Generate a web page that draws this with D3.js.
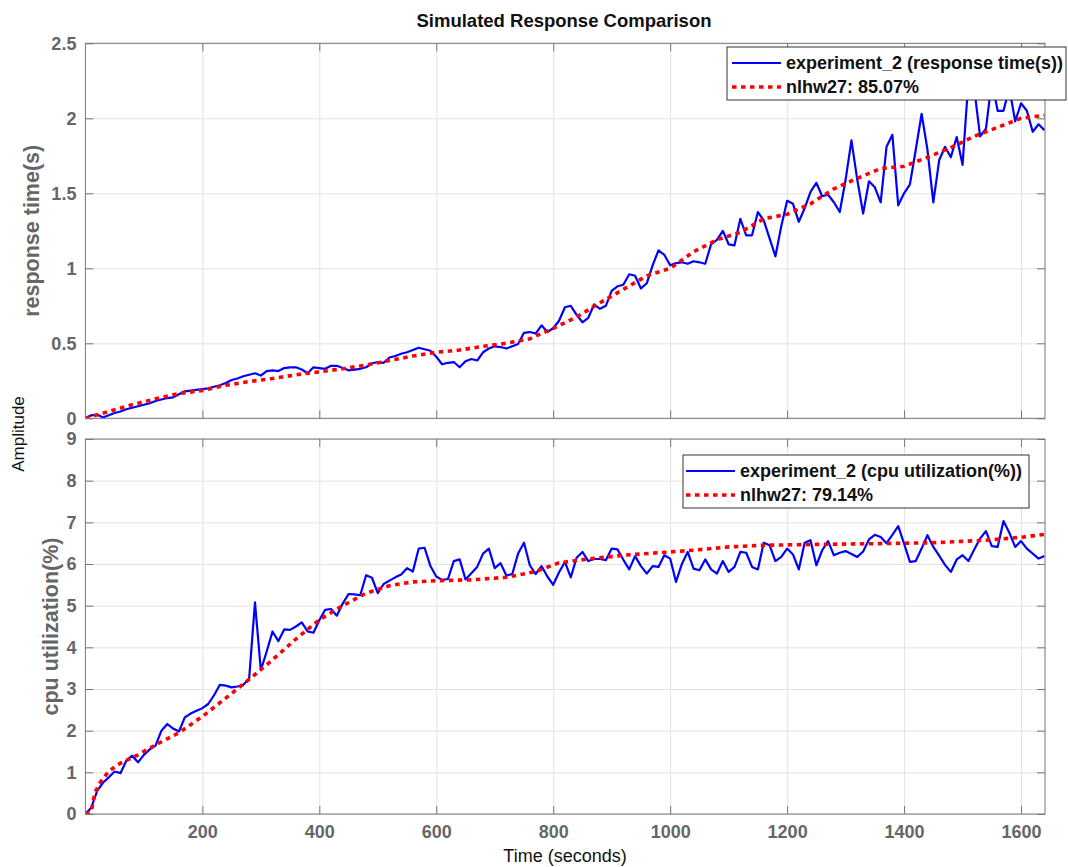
<!DOCTYPE html>
<html>
<head>
<meta charset="utf-8">
<script src="https://cdn.jsdelivr.net/npm/d3@7"></script>
<style>
  body { margin: 0; background: #fff; }
  svg { font-family: "Liberation Sans", Arial, sans-serif; }
</style>
</head>
<body>
<div id="chart"></div>
<script>
///////////// DATA /////////////

// measured samples, one every 10 s
var sampleTimes = d3.range(0, 1641, 10);

var respMeasured = [
  0.00, 0.02, 0.025, 0.005, 0.02, 0.035, 0.045, 0.06, 0.07, 0.08,
  0.09, 0.10, 0.115, 0.125, 0.135, 0.14, 0.16, 0.18, 0.185, 0.19,
  0.195, 0.20, 0.21, 0.22, 0.235, 0.255, 0.265, 0.28, 0.29, 0.30,
  0.285, 0.315, 0.32, 0.315, 0.335, 0.34, 0.34, 0.325, 0.30, 0.34,
  0.335, 0.33, 0.35, 0.35, 0.335, 0.32, 0.325, 0.33, 0.34, 0.365,
  0.375, 0.37, 0.405, 0.415, 0.43, 0.44, 0.455, 0.47, 0.46, 0.45,
  0.41, 0.36, 0.37, 0.375, 0.34, 0.38, 0.395, 0.385, 0.44, 0.465,
  0.48, 0.475, 0.465, 0.48, 0.495, 0.57, 0.575, 0.565, 0.62, 0.575,
  0.60, 0.65, 0.74, 0.75, 0.69, 0.64, 0.67, 0.76, 0.73, 0.75,
  0.85, 0.88, 0.89, 0.96, 0.95, 0.865, 0.90, 1.02, 1.12, 1.09,
  1.02, 1.035, 1.04, 1.03, 1.047, 1.04, 1.03, 1.16, 1.19, 1.25,
  1.16, 1.153, 1.33, 1.22, 1.22, 1.375, 1.32, 1.20, 1.08, 1.28,
  1.45, 1.43, 1.31, 1.40, 1.51, 1.57, 1.48, 1.49, 1.44, 1.375,
  1.59, 1.853, 1.59, 1.365, 1.58, 1.54, 1.44, 1.81, 1.89, 1.42,
  1.50, 1.56, 1.79, 2.03, 1.79, 1.44, 1.72, 1.81, 1.74, 1.875,
  1.69, 2.25, 2.20, 1.88, 1.93, 2.25, 2.05, 2.05, 2.20, 1.98,
  2.10, 2.05, 1.91, 1.96, 1.92
];

var cpuMeasured = [
  0.0, 0.15, 0.55, 0.75, 0.88, 1.02, 0.98, 1.28, 1.40, 1.24,
  1.42, 1.55, 1.64, 2.0, 2.16, 2.05, 1.98, 2.32, 2.41, 2.48,
  2.54, 2.64, 2.85, 3.10, 3.08, 3.04, 3.06, 3.10, 3.25, 5.08,
  3.45, 3.9, 4.38, 4.15, 4.43, 4.42, 4.5, 4.6, 4.38, 4.35,
  4.65, 4.9, 4.92, 4.76, 5.05, 5.28, 5.27, 5.25, 5.73, 5.67,
  5.3, 5.52, 5.6, 5.68, 5.75, 5.9, 5.82, 6.37, 6.39, 5.95,
  5.7, 5.62, 5.64, 6.07, 6.11, 5.63, 5.78, 5.93, 6.25, 6.37,
  5.9, 6.02, 5.72, 5.76, 6.25, 6.51, 5.97, 5.76, 5.95, 5.7,
  5.5, 5.8, 6.05, 5.68, 6.15, 6.29, 6.07, 6.12, 6.12, 6.09,
  6.37, 6.35, 6.1, 5.87, 6.19, 5.95, 5.77, 5.95, 5.93, 6.21,
  6.13, 5.57, 6.0, 6.29, 5.89, 5.85, 6.11, 5.87, 5.77, 6.07,
  5.81, 5.93, 6.29, 6.27, 5.93, 5.87, 6.51, 6.45, 6.07, 6.17,
  6.37, 6.23, 5.87, 6.51, 6.57, 5.97, 6.33, 6.55, 6.21, 6.27,
  6.31, 6.24, 6.17, 6.3, 6.59, 6.7, 6.65, 6.5, 6.7, 6.91,
  6.49, 6.05, 6.07, 6.37, 6.69, 6.41, 6.2, 5.98, 5.81, 6.11,
  6.21, 6.07, 6.35, 6.61, 6.79, 6.43, 6.41, 7.03, 6.75, 6.41,
  6.55, 6.37, 6.25, 6.13, 6.19
];

// nlhw27 model output (smooth, read at coarser points)
var respFitTimes = [0, 40, 80, 120, 160, 200, 240, 280, 320, 360, 400, 440, 480, 520, 560, 600,
  640, 680, 720, 760, 800, 840, 880, 920, 960, 1000, 1040, 1080, 1120, 1160, 1200, 1240,
  1280, 1320, 1360, 1400, 1440, 1480, 1520, 1560, 1600, 1640];
var respFit = [0.0, 0.045, 0.09, 0.13, 0.165, 0.185, 0.22, 0.245, 0.265, 0.29, 0.31, 0.33, 0.355, 0.385, 0.415, 0.44,
  0.455, 0.48, 0.50, 0.53, 0.60, 0.675, 0.77, 0.86, 0.95, 1.0, 1.11, 1.19, 1.24, 1.33, 1.36, 1.43,
  1.53, 1.60, 1.665, 1.68, 1.74, 1.805, 1.88, 1.94, 2.0, 2.02];

var cpuFitTimes = [0, 10, 16, 25, 40, 60, 90, 120, 160, 200, 240, 280, 320, 360, 400, 440, 480, 520, 560, 600,
  660, 720, 770, 810, 860, 920, 980, 1040, 1100, 1160, 1250, 1360, 1450, 1540, 1600, 1640];
var cpuFit = [0.0, 0.05, 0.5, 0.75, 1.03, 1.22, 1.42, 1.66, 1.95, 2.34, 2.78, 3.23, 3.7, 4.2, 4.66, 5.0, 5.3, 5.48, 5.57, 5.6,
  5.62, 5.68, 5.82, 6.03, 6.12, 6.21, 6.27, 6.33, 6.41, 6.45, 6.47, 6.49, 6.51, 6.57, 6.64, 6.71];

var xTicks = [200, 400, 600, 800, 1000, 1200, 1400, 1600];
var respTicks = [0, 0.5, 1, 1.5, 2, 2.5];
var cpuTicks = [0, 1, 2, 3, 4, 5, 6, 7, 8, 9];

var titleText = "Simulated Response Comparison";
var legendResp = ["experiment_2 (response time(s))", "nlhw27: 85.07%"];
var legendCpu = ["experiment_2 (cpu utilization(%))", "nlhw27: 79.14%"];

///////////// LAYOUT /////////////

var W = 1068, H = 867;
var left = 85.4, right = 1045;
var panels = [
  { top: 43.3, bottom: 418.3, domain: [0, 2.5], ticks: respTicks, measured: respMeasured,
    fitT: respFitTimes, fit: respFit, label: "response time(s)", labelX: 39, showX: false,
    legend: legendResp, legBox: [727, 47, 1066, 100], legX: 732 },
  { top: 439, bottom: 814, domain: [0, 9], ticks: cpuTicks, measured: cpuMeasured,
    fitT: cpuFitTimes, fit: cpuFit, label: "cpu utilization(%)", labelX: 57.5, showX: true,
    legend: legendCpu, legBox: [683, 455, 1029, 508], legX: 686 }
];

var axisGray = "#777777", labelGray = "#666666", gridGray = "#e3e3e3";

var svg = d3.select("#chart")
  .append("svg")
  .attr("width", W)
  .attr("height", H);

svg.append("rect").attr("width", W).attr("height", H).attr("fill", "#fff");

var x = d3.scaleLinear().domain([0, 1641]).range([left, right]);

panels.forEach(function (p, i) {
  var y = d3.scaleLinear().domain(p.domain).range([p.bottom, p.top]);
  var g = svg.append("g");

  // grid
  g.append("g")
    .attr("transform", "translate(0," + p.bottom + ")")
    .call(d3.axisBottom(x).tickValues(xTicks).tickSize(-(p.bottom - p.top)).tickFormat(""))
    .call(function (s) { s.select(".domain").remove(); s.selectAll("line").attr("stroke", gridGray); });
  g.append("g")
    .attr("transform", "translate(" + left + ",0)")
    .call(d3.axisLeft(y).tickValues(p.ticks).tickSize(-(right - left)).tickFormat(""))
    .call(function (s) { s.select(".domain").remove(); s.selectAll("line").attr("stroke", gridGray); });

  // clip
  g.append("clipPath").attr("id", "clip" + i)
    .append("rect").attr("x", left).attr("y", p.top).attr("width", right - left).attr("height", p.bottom - p.top);

  var lines = g.append("g").attr("clip-path", "url(#clip" + i + ")");

  var measLine = d3.line()
    .x(function (d, k) { return x(sampleTimes[k]); })
    .y(function (d) { return y(d); });
  var fitLine = d3.line()
    .x(function (d, k) { return x(p.fitT[k]); })
    .y(function (d) { return y(d); });

  lines.append("path")
    .datum(p.measured)
    .attr("d", measLine)
    .attr("fill", "none")
    .attr("stroke", "#0000ff")
    .attr("stroke-width", 2.2)
    .attr("stroke-linejoin", "round");

  lines.append("path")
    .datum(p.fit)
    .attr("d", fitLine)
    .attr("fill", "none")
    .attr("stroke", "#ff0000")
    .attr("stroke-width", 3.6)
    .attr("stroke-dasharray", "4.5,4.5");

  // axes, ticks inward on all four sides
  function styleAxis(s) {
    s.select(".domain").remove();
    s.selectAll("line").attr("stroke", axisGray);
    s.selectAll("text")
      .attr("fill", labelGray)
      .attr("font-size", 18)
      .attr("font-weight", "bold")
      .attr("font-family", "Liberation Sans, Arial, sans-serif");
  }
  g.append("g")
    .attr("transform", "translate(" + left + ",0)")
    .call(d3.axisLeft(y).tickValues(p.ticks).tickSize(-8).tickPadding(9).tickFormat(function (d) { return String(d); }))
    .call(styleAxis);
  g.append("g")
    .attr("transform", "translate(" + right + ",0)")
    .call(d3.axisRight(y).tickValues(p.ticks).tickSize(-8).tickFormat(""))
    .call(styleAxis);
  g.append("g")
    .attr("transform", "translate(0," + p.top + ")")
    .call(d3.axisTop(x).tickValues(xTicks).tickSize(-8).tickFormat(""))
    .call(styleAxis);
  g.append("g")
    .attr("transform", "translate(0," + p.bottom + ")")
    .call(d3.axisBottom(x).tickValues(xTicks).tickSize(-8).tickPadding(11)
      .tickFormat(p.showX ? function (d) { return String(d); } : ""))
    .call(styleAxis);

  g.append("rect")
    .attr("x", left).attr("y", p.top)
    .attr("width", right - left).attr("height", p.bottom - p.top)
    .attr("fill", "none")
    .attr("stroke", axisGray)
    .attr("stroke-width", 1);

  // y label
  g.append("text")
    .attr("transform", "translate(" + p.labelX + "," + (p.top + p.bottom) / 2 + ") rotate(-90)")
    .attr("text-anchor", "middle")
    .attr("font-size", 21.5)
    .attr("font-weight", "bold")
    .attr("fill", labelGray)
    .text(p.label);

  // legend
  var b = p.legBox;
  var leg = g.append("g");
  leg.append("rect")
    .attr("x", b[0]).attr("y", b[1])
    .attr("width", b[2] - b[0]).attr("height", b[3] - b[1])
    .attr("fill", "#fff")
    .attr("stroke", "#333")
    .attr("stroke-width", 1);
  var rowY = [b[1] + 16, b[1] + 40];
  leg.append("line")
    .attr("x1", p.legX).attr("x2", p.legX + 49)
    .attr("y1", rowY[0]).attr("y2", rowY[0])
    .attr("stroke", "#0000ff").attr("stroke-width", 2.2);
  leg.append("line")
    .attr("x1", p.legX).attr("x2", p.legX + 49)
    .attr("y1", rowY[1]).attr("y2", rowY[1])
    .attr("stroke", "#ff0000").attr("stroke-width", 3.6)
    .attr("stroke-dasharray", "4.5,4.5");
  p.legend.forEach(function (t, k) {
    leg.append("text")
      .attr("x", p.legX + 54)
      .attr("y", rowY[k])
      .attr("dy", "0.36em")
      .attr("font-size", 18)
      .attr("font-weight", "bold")
      .attr("fill", "#111")
      .text(t);
  });
});

// title and shared labels
svg.append("text")
  .attr("x", 564).attr("y", 27)
  .attr("text-anchor", "middle")
  .attr("font-size", 18.5)
  .attr("font-weight", "bold")
  .attr("fill", "#111")
  .text(titleText);

svg.append("text")
  .attr("x", 565).attr("y", 862)
  .attr("text-anchor", "middle")
  .attr("font-size", 18)
  .attr("fill", "#111")
  .text("Time (seconds)");

svg.append("text")
  .attr("transform", "translate(24,434) rotate(-90)")
  .attr("text-anchor", "middle")
  .attr("font-size", 17)
  .attr("fill", "#111")
  .text("Amplitude");
</script>
</body>
</html>
